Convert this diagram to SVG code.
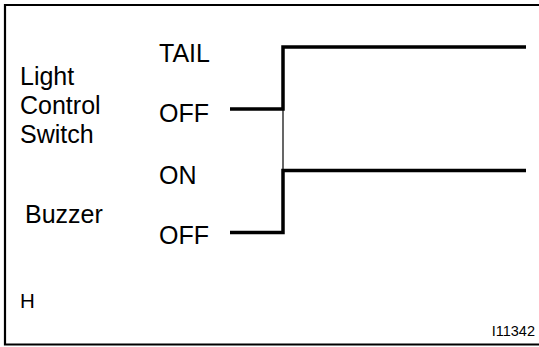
<svg xmlns="http://www.w3.org/2000/svg" width="539" height="347" viewBox="0 0 539 347">
<style>
text{font-family:"Liberation Sans",Arial,sans-serif;fill:#000}
.lbl{font-size:25px}
.sig{fill:none;stroke:#000;stroke-width:3.5;stroke-linejoin:miter;stroke-linecap:butt}
.frame{fill:none;stroke:#000;stroke-width:2.2}
</style>
<rect width="539" height="347" fill="#fff"/>
<g id="frame">
<path class="frame" d="M539,5 H5 V344.5 H539"/>
</g>
<g id="light-control-switch">
<text class="lbl" x="20" y="85">Light</text>
<text class="lbl" x="20" y="114">Control</text>
<text class="lbl" x="20" y="143">Switch</text>
</g>
<g id="buzzer">
<text class="lbl" x="25" y="223">Buzzer</text>
</g>
<g id="states">
<text class="lbl" x="159" y="62">TAIL</text>
<text class="lbl" x="159" y="122">OFF</text>
<text class="lbl" x="159" y="184">ON</text>
<text class="lbl" x="159" y="244">OFF</text>
</g>
<g id="notes">
<text x="20" y="308" style="font-size:20.5px">H</text>
<text x="535" y="336" text-anchor="end" style="font-size:14.5px">I11342</text>
</g>
<g id="connectors">
<path class="sig" d="M230,109 H283 V47 H526"/>
<path class="sig" d="M230,232.5 H283 V170.5 H526"/>
<line x1="283" y1="109" x2="283" y2="170.5" stroke="#000" stroke-width="1.2"/>
</g>
</svg>
